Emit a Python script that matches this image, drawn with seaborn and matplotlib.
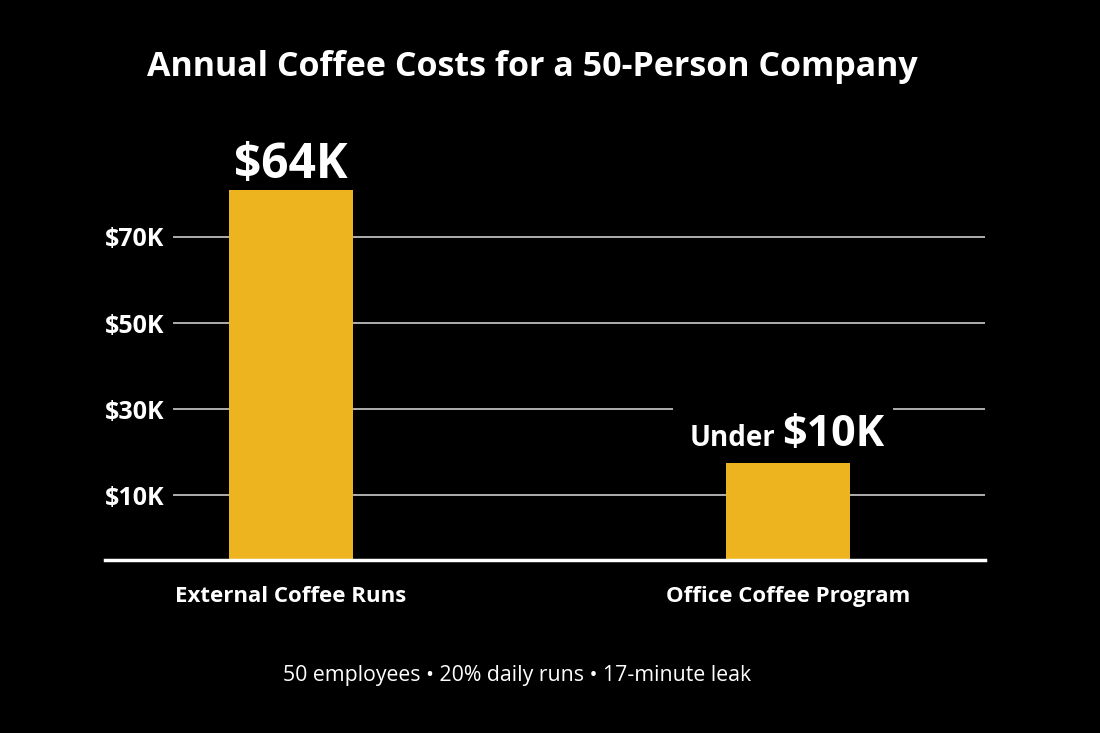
import matplotlib.pyplot as plt
import pandas as pd
import seaborn as sns

# values as drawn (bar heights on the chart's own axis, in $K)
categories = ['External Coffee Runs', 'Office Coffee Program']
bar_heights = [86.0, 22.5]
bar_labels = ['$64K', '$10K']
bar_prefix = ['', 'Under']
tick_positions = [15, 35, 55, 75]
tick_labels = ['$10K', '$30K', '$50K', '$70K']
footer = '50 employees \u2022 20% daily runs \u2022 17-minute leak'

sns.set_theme(style='dark')
plt.rcParams['font.family'] = ['Open Sans', 'DejaVu Sans']

df = pd.DataFrame({'cat': categories, 'val': bar_heights})

fig = plt.figure(figsize=(11, 7.33), dpi=100, facecolor='black')
ax = fig.add_axes([0.0955, 0.236, 0.80, 0.56])
ax.set_facecolor('black')

# gridlines (start a little right of the axis edge, as in the reference)
ax.hlines(tick_positions, -0.237, 1.396, color='#cccccc', lw=1.2, zorder=0)

# bars sit above the label boxes so the boxes only cut the gridlines
sns.barplot(data=df, x='cat', y='val', color='#EDB420', saturation=1,
            width=0.25, ax=ax, zorder=4, linewidth=0)

ax.set_xlim(-0.374, 1.396)
ax.set_ylim(0, 95.3)
for s in ['top', 'right', 'left']:
    ax.spines[s].set_visible(False)
ax.spines['bottom'].set_color('white')
ax.spines['bottom'].set_linewidth(2.5)
ax.spines['bottom'].set_zorder(5)
ax.grid(False)

ax.set_yticks(tick_positions)
ax.set_yticklabels(tick_labels, color='white', fontsize=18, fontweight='bold',
                   ha='left')
ax.tick_params(axis='y', length=0, pad=0)
ax.tick_params(axis='x', length=0, pad=19)
ax.set_xticks(range(len(categories)))
ax.set_xticklabels(categories, color='white', fontsize=16, fontweight='bold')
ax.set_xlabel('')
ax.set_ylabel('')

# value labels
ax.annotate(bar_labels[0], (0, bar_heights[0]), xytext=(0, 8.5),
            textcoords='offset points', ha='center', va='baseline',
            color='white', fontsize=34.5, fontweight='bold', zorder=5)
ax.annotate(bar_prefix[1], (0.974, bar_heights[1]), xytext=(0, 12),
            textcoords='offset points', ha='right', va='baseline',
            color='white', fontsize=20, fontweight='bold',
            bbox=dict(facecolor='black', edgecolor='none', pad=12), zorder=3)
ax.annotate(bar_labels[1], (0.988, bar_heights[1]), xytext=(0, 12),
            textcoords='offset points', ha='left', va='baseline',
            color='white', fontsize=31, fontweight='bold',
            bbox=dict(facecolor='black', edgecolor='none', pad=6), zorder=3)

fig.text(0.484, 0.908, 'Annual Coffee Costs for a 50-Person Company',
         ha='center', va='center', color='white', fontsize=24.5,
         fontweight='bold')
fig.text(0.47, 0.079, footer, ha='center', va='center', color='white',
         fontsize=15.3)

fig.savefig('out.png', dpi=100, facecolor='black')
